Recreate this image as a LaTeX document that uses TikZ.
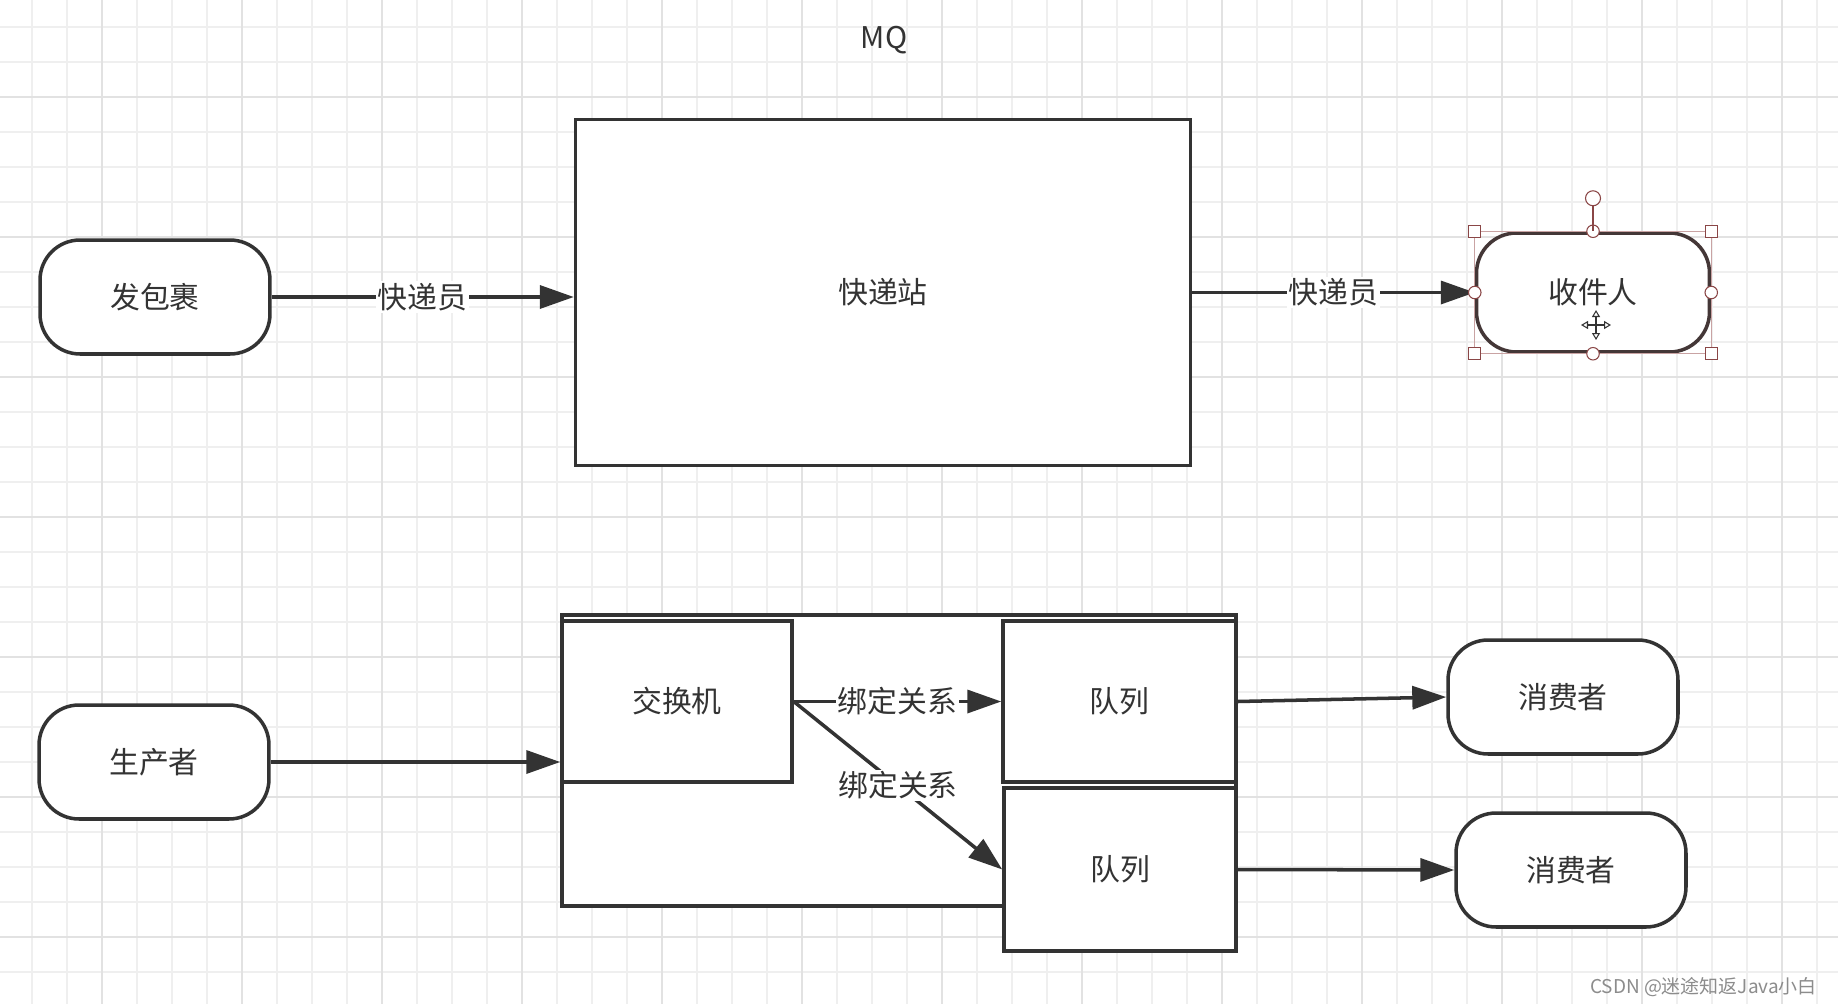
\documentclass[tikz,border=0pt]{standalone}
\usepackage{fontspec}
\setmainfont{Noto Sans CJK SC}
\usetikzlibrary{arrows.meta, positioning}

\definecolor{ink}{HTML}{333333}
\definecolor{gridlight}{HTML}{EFEFEF}
\definecolor{griddark}{HTML}{E2E2E2}
\definecolor{handle}{HTML}{8A4646}
\definecolor{selbox}{HTML}{C9A3A3}

\tikzset{
  cn/.style={font=\fontsize{17}{20}\selectfont, text=ink},
  terminal/.style={cn, draw=ink, line width=2pt, fill=white, rounded corners=0.8cm,
    minimum width=4.6cm, minimum height=2.28cm},
  box/.style={cn, draw=ink, line width=2pt, fill=white},
  lbl/.style={cn, fill=white, inner sep=1pt},
  arr/.style={draw=ink, line width=2pt, -{Triangle[length=0.68cm, width=0.46cm]}},
  hsquare/.style={draw=handle, fill=white, line width=0.6pt, minimum size=0.24cm, inner sep=0pt},
  hcircle/.style={draw=handle, fill=white, circle, line width=0.6pt, minimum size=0.25cm, inner sep=0pt},
  mvarr/.style={draw=black!80, line width=0.6pt, {Triangle[open, length=0.14cm, width=0.16cm]}-{Triangle[open, length=0.14cm, width=0.16cm]}}
}

\begin{document}
\begin{tikzpicture}[x=0.02cm, y=-0.02cm]
  \fill[white] (0,0) rectangle (1838,1004);
  \useasboundingbox (0,0) rectangle (1838,1004);

  \foreach \k in {0,...,51}
    \draw[gridlight, line width=0.85pt] (32+35*\k,0) -- (32+35*\k,1004);
  \foreach \k in {0,...,28}
    \draw[gridlight, line width=0.85pt] (0,27+35*\k) -- (1838,27+35*\k);
  \foreach \k in {2,6,...,50}
    \draw[griddark, line width=0.85pt] (32+35*\k,0) -- (32+35*\k,1004);
  \foreach \k in {2,6,...,26}
    \draw[griddark, line width=0.85pt] (0,27+35*\k) -- (1838,27+35*\k);

  \node[cn] (title) at (884,40) {MQ};

  \node[terminal] (sender) at (155,297) {发包裹};
  \node[box, minimum width=12.3cm, minimum height=6.92cm] (station) at (883,292.5) {快递站};
  \node[terminal, minimum width=4.66cm, minimum height=2.38cm, draw=ink!80!handle] (receiver) at (1593,292.5) {收件人};

  \draw[arr] (sender.east) -- (sender.east -| station.west) node[lbl, midway] {快递员};
  \draw[arr] (station.east) -- (receiver.west) node[lbl, midway] {快递员};

  \draw[selbox, line width=0.5pt] (receiver.north west) rectangle (receiver.south east);
  \foreach \a in {north west, north east, south west, south east}
    \node[hsquare] at (receiver.\a) {};
  \foreach \a in {north, south, east, west}
    \node[hcircle] at (receiver.\a) {};
  \node[hcircle, minimum size=0.3cm] (rotate) at ([yshift=0.66cm]receiver.north) {};
  \draw[handle, line width=0.6pt] (rotate) -- (receiver.north);
  \coordinate (move) at (1596,325);
  \draw[mvarr] ([xshift=-0.3cm]move) -- ([xshift=0.3cm]move);
  \draw[mvarr] ([yshift=-0.3cm]move) -- ([yshift=0.3cm]move);

  \node[terminal] (producer) at (154,762) {生产者};
  \node[box, minimum width=13.48cm, minimum height=5.82cm] (broker) at (899,760.5) {};
  \node[box, minimum width=4.6cm, minimum height=3.22cm] (exchange) at (677,701.5) {交换机};
  \node[box, minimum width=4.66cm, minimum height=3.22cm] (queueA) at (1119.5,701.5) {队列};
  \node[box, minimum width=4.64cm, minimum height=3.26cm] (queueB) at (1120,869.5) {队列};
  \node[terminal] (consumerA) at (1563,697) {消费者};
  \node[terminal] (consumerB) at (1571,870) {消费者};

  \draw[arr] (producer.east) -- (producer.east -| exchange.west);
  \draw[arr] (exchange.east) -- (queueA.west) node[lbl, midway] {绑定关系};
  \draw[arr] (exchange.east) -- (queueB.west) node[lbl, midway] {绑定关系};
  \draw[arr] (queueA.east) -- (consumerA.west);
  \draw[arr] (queueB.east) -- (consumerB.west);

  \node[anchor=east, text=black!45, font=\fontsize{10.8}{12}\selectfont] (mark) at (1823,987) {CSDN @迷途知返Java小白};
\end{tikzpicture}
\end{document}
